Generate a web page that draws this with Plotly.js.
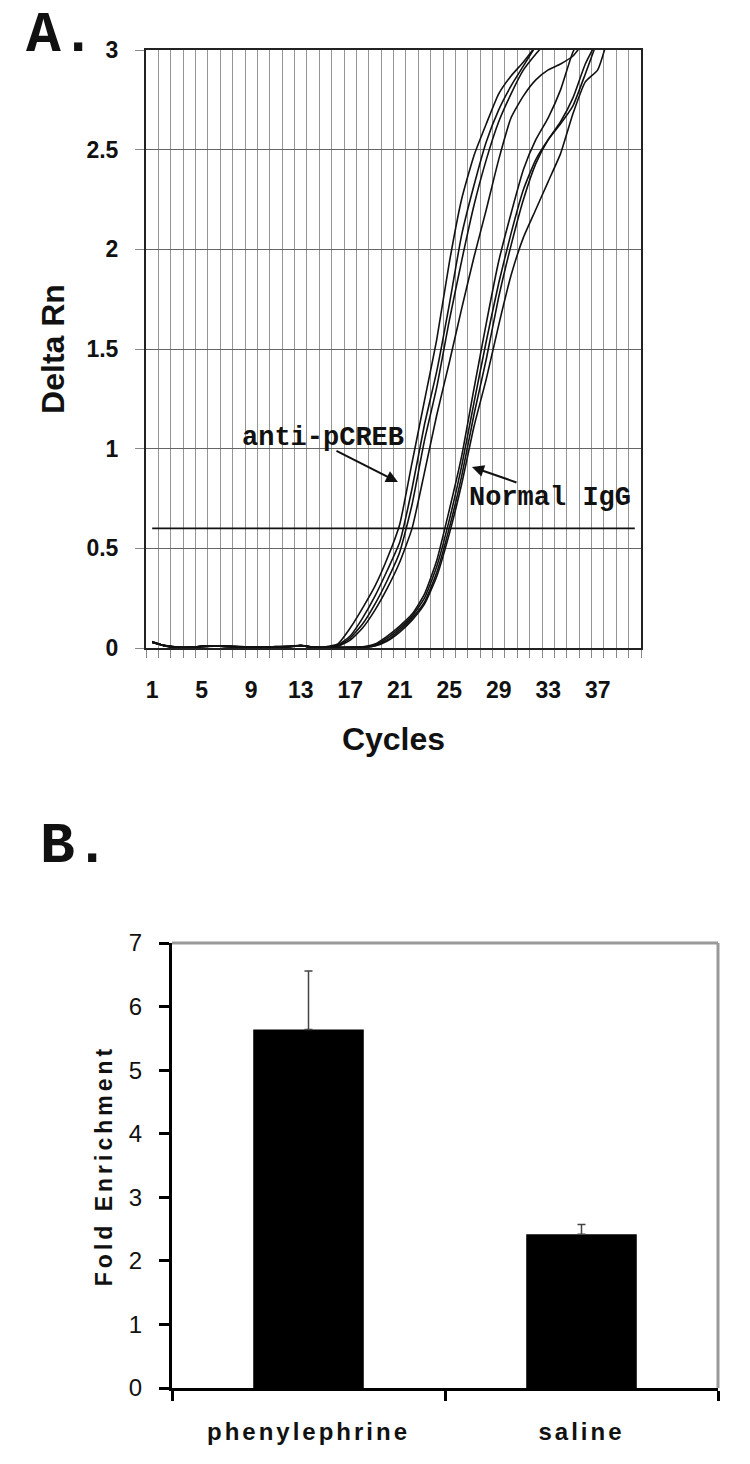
<!DOCTYPE html>
<html><head><meta charset="utf-8">
<script src="https://cdn.plot.ly/plotly-3.0.1.min.js"></script>
<style>
body{margin:0;background:#fff}
#chart{width:750px;height:1464px}
.x2tick text{letter-spacing:3px}
.g-y2title text{letter-spacing:4px}
</style></head><body><div id="chart"></div>
<script>
// ---------- Panel A: real-time PCR amplification curves ----------
const cycles = [1,2,3,4,5,6,7,8,9,10,11,12,13,14,15,16,17,18,19,20,21,22,23,24,25,26,27,28,29,30,31,32,33,34,35,36,37,38,39,40];

const antiPCREB1 = [0.032,0.010,0.003,0.002,0.009,0.011,0.007,0.005,0.006,0.003,0.005,0.008,0.013,0.004,
  0.006,0.02,0.10,0.20,0.31,0.45,0.62,0.93,1.24,1.55,1.93,2.25,2.47,2.63,2.78,2.87,2.94,3.02];
const antiPCREB2 = [0.028,0.013,0.005,0.004,0.007,0.010,0.009,0.006,0.004,0.005,0.006,0.006,0.011,0.005,
  0.004,0.015,0.06,0.15,0.26,0.39,0.53,0.80,1.12,1.39,1.72,2.07,2.32,2.54,2.70,2.82,2.92,3.02];
const antiPCREB3 = [0.030,0.011,0.004,0.003,0.008,0.009,0.008,0.007,0.005,0.004,0.007,0.007,0.012,0.003,
  0.003,0.010,0.05,0.12,0.22,0.34,0.48,0.72,1.04,1.31,1.64,1.94,2.22,2.45,2.64,2.78,2.90,2.98,3.05];
const antiPCREB4 = [0.029,0.012,0.004,0.003,0.008,0.010,0.008,0.006,0.005,0.004,0.006,0.007,0.012,0.004,
  0.002,0.008,0.04,0.10,0.19,0.30,0.43,0.60,0.88,1.17,1.43,1.70,1.96,2.20,2.45,2.66,2.77,2.85,2.90,2.93,2.97,3.05];

const normalIgG1 = [0.031,0.011,0.004,0.003,0.008,0.010,0.008,0.006,0.005,0.004,0.006,0.007,0.012,0.004,
  0.003,0.003,0.004,0.006,0.02,0.06,0.11,0.17,0.27,0.44,0.69,0.96,1.30,1.63,1.94,2.18,2.40,2.55,2.66,2.80,2.99,3.10];
const normalIgG2 = [0.029,0.012,0.005,0.003,0.007,0.010,0.009,0.006,0.005,0.004,0.006,0.006,0.011,0.004,
  0.002,0.003,0.003,0.005,0.015,0.05,0.10,0.16,0.25,0.41,0.64,0.91,1.23,1.54,1.83,2.08,2.30,2.45,2.55,2.63,2.72,2.88,3.05];
const normalIgG3 = [0.030,0.011,0.004,0.003,0.008,0.009,0.008,0.007,0.005,0.004,0.007,0.007,0.012,0.003,
  0.002,0.002,0.003,0.004,0.012,0.04,0.09,0.15,0.23,0.38,0.60,0.86,1.17,1.45,1.76,2.02,2.25,2.43,2.55,2.64,2.76,2.93,3.05];
const normalIgG4 = [0.028,0.012,0.004,0.003,0.008,0.010,0.008,0.006,0.005,0.004,0.006,0.007,0.012,0.004,
  0.002,0.002,0.003,0.003,0.01,0.035,0.08,0.14,0.22,0.36,0.57,0.82,1.11,1.35,1.62,1.87,2.06,2.20,2.34,2.48,2.68,2.84,2.90,3.10];

const thresholdCycles = [1, 40];
const thresholdValue = [0.6, 0.6];

const cycleTickVals = [1,5,9,13,17,21,25,29,33,37];
const cycleTickText = ['1','5','9','13','17','21','25','29','33','37'];
const deltaRnTickVals = [0,0.5,1,1.5,2,2.5,3];
const deltaRnTickText = ['0','0.5','1','1.5','2','2.5','3'];

// ---------- Panel B: fold enrichment ----------
const treatments = ['phenylephrine', 'saline'];
const foldEnrichment = [5.64, 2.42];
const foldError = [0.92, 0.15];
const foldTickVals = [0,1,2,3,4,5,6,7];
const foldTickText = ['0','1','2','3','4','5','6','7'];

// ---------- build ----------
const curveList = [antiPCREB1, antiPCREB2, antiPCREB3, antiPCREB4,
                   normalIgG1, normalIgG2, normalIgG3, normalIgG4];
const traces = curveList.map(v => ({
  type:'scatter', mode:'lines', xaxis:'x', yaxis:'y',
  x: cycles.slice(0, v.length), y: v,
  line:{color:'#111', width:1.6, shape:'spline', smoothing:0.5},
  hoverinfo:'skip'
}));
traces.push({
  type:'scatter', mode:'lines', xaxis:'x', yaxis:'y',
  x: thresholdCycles, y: thresholdValue,
  line:{color:'#111', width:1.6}, hoverinfo:'skip'
});
traces.push({
  type:'bar', xaxis:'x2', yaxis:'y2',
  x: treatments, y: foldEnrichment, width:0.405,
  marker:{color:'#000'},
  error_y:{type:'data', array: foldError, arrayminus:[0,0], symmetric:false,
           color:'#444', thickness:1.5, width:4}
});

const sans = 'Liberation Sans, Arial, sans-serif';
const mono = 'Liberation Mono, Courier New, monospace';

const layout = {
  width:750, height:1464, margin:{l:0,r:0,t:0,b:0},
  paper_bgcolor:'#fff', plot_bgcolor:'#fff', showlegend:false,
  font:{family:sans, color:'#111'},
  xaxis:{
    domain:[146/750, 641/750], anchor:'y', range:[0.5,40.5],
    tickmode:'array', tickvals:cycleTickVals, ticktext:cycleTickText,
    ticks:'', showgrid:false, zeroline:false,
    showline:true, linecolor:'#222', linewidth:2, mirror:true,
    tickfont:{size:23, family:sans, weight:'bold', color:'#111'},
    ticklabelstandoff:20,
    minor:{tickmode:'linear', tick0:0.5, dtick:1, ticks:'outside', ticklen:8,
           tickcolor:'#888', tickwidth:1, showgrid:true, gridcolor:'#959595', gridwidth:1},
    title:{text:'Cycles', font:{size:32, family:sans, weight:'bold', color:'#111'}, standoff:26}
  },
  yaxis:{
    domain:[1-648/1464, 1-50/1464], anchor:'x', range:[0,3],
    tickmode:'array', tickvals:deltaRnTickVals, ticktext:deltaRnTickText,
    ticks:'outside', ticklen:9, tickcolor:'#888', tickwidth:1,
    showgrid:true, gridcolor:'#666', gridwidth:1, zeroline:false,
    showline:true, linecolor:'#222', linewidth:2, mirror:true,
    tickfont:{size:23, family:sans, weight:'bold', color:'#111'},
    ticklabelstandoff:12,
    title:{text:'Delta Rn', font:{size:32, family:sans, weight:'bold', color:'#111'}, standoff:12}
  },
  xaxis2:{
    domain:[172/750, 718/750], anchor:'y2', type:'category',
    tickson:'boundaries', ticks:'outside', ticklen:10, tickwidth:3, tickcolor:'#000',
    showline:true, linecolor:'#000', linewidth:3, showgrid:false,
    tickfont:{size:24, family:sans, weight:'bold', color:'#111'},
    ticklabelstandoff:20
  },
  yaxis2:{
    domain:[1-1388/1464, 1-943/1464], anchor:'x2', range:[0,7],
    tickmode:'array', tickvals:foldTickVals, ticktext:foldTickText,
    ticks:'outside', ticklen:10, tickwidth:3, tickcolor:'#000',
    showline:true, linecolor:'#000', linewidth:3, showgrid:false, zeroline:false,
    tickfont:{size:24, family:sans, color:'#111'},
    ticklabelstandoff:12,
    title:{text:'Fold Enrichment', font:{size:23, family:sans, weight:'bold', color:'#111'}, standoff:10}
  },
  shapes:[
    {type:'line', xref:'x2 domain', yref:'y2 domain', x0:0, x1:1, y0:1, y1:1, line:{color:'#999', width:3}},
    {type:'line', xref:'x2 domain', yref:'y2 domain', x0:1, x1:1, y0:0, y1:1, line:{color:'#999', width:3}}
  ],
  annotations:[
    {xref:'paper', yref:'paper', x:24/750, y:1-35/1464, xanchor:'left', yanchor:'middle',
     text:'A.', showarrow:false, font:{family:mono, size:58, weight:'bold', color:'#111'}},
    {xref:'paper', yref:'paper', x:38/750, y:1-846/1464, xanchor:'left', yanchor:'middle',
     text:'B.', showarrow:false, font:{family:mono, size:58, weight:'bold', color:'#111'}},
    {xref:'x', yref:'y', x:14.8, y:1.054, text:'anti-pCREB', showarrow:false,
     font:{family:mono, size:27, weight:'bold', color:'#111'}},
    {xref:'x', yref:'y', x:33.15, y:0.753, text:'Normal IgG', showarrow:false,
     font:{family:mono, size:27, weight:'bold', color:'#111'}},
    {xref:'x', yref:'y', x:20.86, y:0.833, axref:'x', ayref:'y', ax:15.77, ay:0.993,
     text:'', showarrow:true, arrowhead:2, arrowsize:1.2, arrowwidth:2, arrowcolor:'#111'},
    {xref:'x', yref:'y', x:26.84, y:0.908, axref:'x', ayref:'y', ax:30.56, ay:0.828,
     text:'', showarrow:true, arrowhead:2, arrowsize:1.2, arrowwidth:2, arrowcolor:'#111'}
  ]
};

Plotly.newPlot('chart', traces, layout, {staticPlot:true, displayModeBar:false});
</script></body></html>
